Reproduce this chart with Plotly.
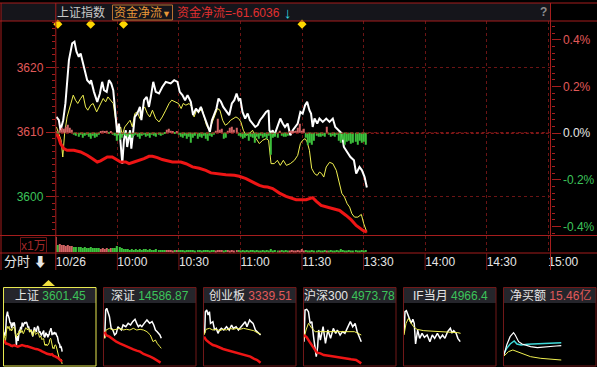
import plotly.graph_objects as go

W, H = 597, 367
def X(p): return p / W
def Y(p): return 1 - p / H

# ---------------- data: main (上证指数 intraday) ----------------
BASE_CLOSE = 3609.85
price_pts = [(0.3,3612.37),(1.5,3611.86),(2.3,3610.31),(3.6,3611.86),(4.7,3614.50),(6.4,3621.16),(8.0,3623.75),(9.1,3624.00),
    (10.1,3622.45),(11.2,3621.67),(12.1,3622.20),(13.7,3620.12),(15.3,3618.06),(16.6,3617.60),(17.2,3618.06),(18.6,3616.25),
    (20.2,3614.70),(21.5,3616.00),(22.6,3617.80),(23.5,3616.50),(24.8,3616.25),(25.9,3618.06),(27.0,3617.55),(28.0,3616.50),
    (29.2,3612.37),(30.0,3609.53),(30.8,3611.35),(31.6,3608.76),(32.4,3605.15),(33.2,3608.76),(34.1,3610.31),(34.8,3607.72),
    (36.2,3610.31),(36.8,3607.47),(37.5,3609.80),(38.5,3612.37),(39.7,3612.90),(41.0,3613.92),(41.7,3611.86),(43.0,3614.96),
    (44.3,3615.47),(45.4,3613.92),(46.3,3615.47),(47.5,3617.80),(48.7,3616.25),(50.3,3616.00),(51.9,3617.00),(53.6,3617.80),
    (56.0,3617.55),(57.7,3618.06),(59.3,3617.80),(60.4,3616.25),(61.7,3615.74),(63.0,3614.96),(64.2,3615.74),(65.8,3614.70),
    (66.9,3612.64),(68.3,3613.67),(69.5,3613.15),(70.7,3613.92),(71.8,3612.90),(73.1,3611.86),(74.4,3610.82),(75.1,3610.05),
    (76.1,3611.86),(77.2,3612.90),(78.3,3613.67),(79.3,3615.22),(80.5,3614.70),(81.6,3613.92),(82.9,3613.41),(84.5,3612.64),
    (85.8,3614.45),(87.0,3614.96),(88.1,3616.00),(89.1,3614.96),(89.9,3615.22),(91.0,3613.15),(92.3,3612.12),(93.5,3612.90),
    (94.6,3611.86),(95.9,3611.35),(97.2,3610.82),(98.4,3611.09),(99.5,3611.86),(100.8,3612.37),(102.5,3613.15),(103.7,3613.41),
    (104.1,3610.31),(104.9,3609.80),(105.7,3610.31),(106.5,3609.53),(107.8,3610.82),(109.4,3612.12),(110.6,3611.35),(111.7,3610.82),
    (113.0,3611.35),(114.3,3609.53),(115.5,3610.31),(116.6,3610.82),(117.9,3611.35),(119.2,3613.15),(120.3,3612.90),(121.5,3614.19),
    (122.5,3614.70),(123.6,3613.41),(124.4,3612.90),(125.2,3610.82),(126.1,3612.12),(127.4,3611.35),(128.5,3612.12),(130.1,3611.60),
    (131.8,3612.12),(133.4,3611.60),(135.0,3612.12),(136.2,3610.82),(137.8,3610.31),(139.4,3609.80),(140.4,3607.72),(142.0,3606.95),
    (143.6,3606.17),(145.3,3605.66),(146.4,3603.60),(148.0,3604.63),(149.2,3604.11),(150.5,3603.07),(151.6,3601.45)]

avg_pts = [(0.3,3610.82),(1.5,3609.80),(2.6,3608.76),(3.4,3606.17),(4.3,3609.80),(5.5,3612.37),(7.2,3614.45),(8.5,3615.74),
    (9.6,3614.96),(10.7,3614.45),(12.1,3615.22),(13.3,3615.74),(14.5,3613.92),(15.6,3613.41),(17.0,3614.19),(18.2,3614.45),
    (19.9,3613.15),(21.5,3614.19),(23.1,3615.22),(24.3,3614.70),(25.4,3615.47),(26.7,3614.96),(28.0,3614.45),(29.2,3611.86),
    (30.4,3610.05),(31.6,3610.82),(32.4,3609.53),(33.6,3610.82),(34.8,3611.35),(36.2,3611.86),(37.3,3610.82),(38.5,3612.90),
    (39.7,3613.15),(41.0,3612.12),(42.2,3613.41),(43.3,3613.92),(44.6,3612.90),(45.8,3612.37),(47.1,3613.41),(48.7,3612.12),
    (50.3,3611.60),(51.9,3612.37),(53.6,3613.41),(55.2,3614.45),(56.5,3614.96),(58.1,3614.70),(59.8,3614.45),(61.1,3613.67),
    (62.1,3614.45),(63.4,3614.19),(65.0,3614.45),(66.3,3613.92),(67.4,3612.37),(68.6,3613.41),(69.9,3613.15),(71.2,3613.67),
    (72.3,3612.12),(73.4,3611.09),(74.8,3610.31),(76.1,3611.35),(77.3,3612.37),(78.8,3613.67),(80.0,3613.41),(81.3,3611.86),
    (82.6,3611.09),(83.9,3611.35),(85.2,3611.86),(86.5,3612.12),(87.8,3612.37),(89.1,3612.12),(90.2,3611.60),(91.4,3610.31),
    (92.7,3609.53),(94.3,3609.80),(95.9,3610.31),(97.6,3609.02),(99.2,3608.25),(100.8,3608.76),(102.5,3609.02),(103.7,3608.76),
    (104.1,3607.72),(104.9,3605.15),(106.5,3605.15),(108.0,3605.66),(109.4,3604.88),(110.9,3605.66),(112.4,3604.88),(114.3,3605.15),
    (116.3,3605.66),(117.9,3606.43),(119.2,3608.25),(120.3,3608.76),(121.5,3609.02),(122.5,3608.50),(123.6,3607.21),(124.7,3604.42),
    (126.1,3603.60),(127.4,3603.33),(128.5,3603.84),(129.5,3603.64),(130.6,3603.07),(131.8,3604.63),(133.4,3605.35),(135.0,3605.15),
    (136.7,3604.11),(138.3,3602.25),(139.4,3600.54),(140.7,3599.97),(142.0,3598.95),(143.2,3598.42),(144.3,3597.40),(145.6,3596.87),
    (147.2,3596.87),(148.9,3597.29),(150.1,3595.84),(151.6,3594.54)]

# 资金净流 (cumulative net capital flow)
flow_pts = [(0.3,-0.2),(1.5,-3.1),(2.3,-6.4),(3.9,-9.6),(5.5,-10.6),(8.8,-10.6),(12.1,-11.7),(15.3,-13.7),(17.7,-15.8),
    (20.2,-17.9),(21.8,-17.2),(23.5,-15.8),(25.1,-14.8),(27.5,-14.8),(29.2,-15.9),(31.6,-17.9),(34.1,-17.9),(35.7,-18.9),
    (38.1,-17.9),(40.6,-16.9),(43.0,-15.8),(45.4,-14.4),(47.1,-14.4),(49.5,-15.2),(51.9,-16.4),(56.8,-17.9),(60.9,-17.9),
    (63.5,-19.0),(66.6,-21.0),(69.9,-21.8),(73.1,-23.1),(75.6,-24.7),(78.0,-25.2),(82.9,-25.8),(87.0,-26.2),(89.4,-26.8),
    (92.7,-28.3),(95.8,-30.3),(99.2,-32.5),(101.6,-33.4),(103.2,-33.5),(105.7,-34.5),(109.0,-37.3),(112.2,-39.3),(117.1,-41.4),
    (122.0,-41.4),(125.2,-40.1),(127.0,-42.4),(129.3,-44.9),(133.4,-46.4),(138.3,-48.1),(141.5,-51.2),(144.0,-54.0),
    (146.4,-57.4),(149.7,-60.5),(151.6,-61.6036)]

# per-minute net flow bars (minute 0 .. 151)
minute_flow = [1,-1,3,5,4,6,8,5,3,-2,
    -3,-4,-2,-5,-3,-2,-4,-6,-3,-5,
    -4,-2,1,2,1,2,-1,1,-2,-3,
    -8,-7,-5,-2,-3,-4,-2,-5,-3,-2,
    -4,-6,-3,-2,-4,-3,-5,-2,-3,-4,
    -2,-3,-2,-1,3,4,2,1,-1,1,
    -2,-4,-5,-3,-6,-4,-10,-5,-3,-6,
    -4,-5,-3,-6,-8,-3,-4,-2,2,14,
    3,4,-6,-5,2,5,6,3,5,-3,
    -4,-6,-5,-3,-8,-4,-5,-10,-4,-6,
    -3,-5,-4,-6,-3,-22,-5,-4,-5,2,
    -3,-4,-4,-3,1,2,1,2,5,9,
    2,4,-5,-12,-10,-12,-8,-3,-4,-4,
    -3,-4,6,-2,-4,-3,-4,-2,-8,-10,
    -7,-12,-9,-8,-11,-10,-9,-12,-8,-10,
    -9,-12]

# volume (x1万), minute 0 .. 151
volume = [15,7,8,7,7,6,7,6,6,5,
    5,5,5,4,5,4,4,5,4,4,
    4,4,3,4,3,4,3,4,4,4,
    6,5,4,3,3,3,2,3,2,3,
    2,3,2,3,3,2,3,2,2,3,
    2,2,2,2,2,2,2,1,2,2,
    2,2,2,1,2,2,2,2,1,2,
    2,1,2,2,2,1,2,2,1,2,
    2,2,1,2,2,1,2,1,2,2,
    1,2,1,2,1,2,2,1,2,1,
    1,2,1,2,1,3,1,2,1,1,
    2,1,2,1,1,2,1,1,2,1,
    3,1,2,1,1,2,1,1,2,1,
    1,2,1,1,2,1,1,2,1,3,
    2,1,1,2,1,1,2,1,1,2,
    1,2]

event_minutes = [1, 17, 33, 120]
time_tick_min = [0, 30, 60, 90, 120, 150, 180, 210, 240]
time_tick_text = ["10/26", "10:00", "10:30", "11:00", "11:30", "13:30", "14:00", "14:30", "15:00"]
price_ticks = [3600, 3610, 3620]
pct_ticks = [-0.4, -0.2, 0.0, 0.2, 0.4]

# ---------------- data: thumbnails ----------------
thumb_names = ["上证", "深证", "创业板", "沪深300", "IF当月", "净买额"]
thumb_values = ["3601.45", "14586.87", "3339.51", "4973.78", "4966.4", "15.46亿"]
thumb_up = [False, False, True, False, False, True]

sz_white = [(1.8,-0.125),(4.4,0.30),(7.1,0.325),(10.7,0.275),(14.2,0.20),(18.7,0.025),(23.1,0.0),(27.6,-0.075),(32.0,-0.05),
    (36.4,0.05),(40.9,0.025),(45.3,0.0),(49.8,0.075),(56.9,0.05),(63.1,0.10),(69.3,0.075),(74.7,0.125),(80.9,0.16),(85.3,0.10),
    (89.8,0.05),(94.2,0.075),(98.7,0.05),(104.9,0.10),(112.0,0.15),(119.1,0.10),(125.3,0.125),(129.8,0.075),(134.2,0.0),
    (138.7,-0.025),(145.8,-0.075),(149.4,-0.125)]
sz_yellow = [(1.8,-0.125),(5.3,0.0),(14.2,0.025),(23.1,0.0),(32.0,0.01),(40.9,0.025),(49.8,0.0),(58.7,0.01),(67.6,0.0),
    (76.5,0.025),(85.3,0.0),(94.2,0.01),(103.1,0.0),(112.0,-0.025),(120.9,-0.075),(128.0,-0.175),(134.2,-0.15),(138.7,-0.20),
    (145.8,-0.25),(149.4,-0.275)]
sz_flow = [(1.8,0),(5.3,-6),(14.2,-9),(23.1,-13.8),(32.0,-18),(40.9,-21),(49.8,-24),(58.7,-27),(67.6,-30),(76.5,-31.8),
    (85.3,-34.2),(94.2,-36),(103.1,-40.2),(112.0,-42),(120.9,-45),(129.8,-48),(138.7,-52.2),(147.6,-55.8)]

cy_white = [(1.8,-0.05),(3.6,0.275),(7.1,0.30),(10.7,0.225),(14.2,0.275),(16.9,0.10),(23.1,0.125),(27.6,0.0),(32.0,0.025),
    (36.4,-0.05),(40.9,0.0),(45.3,0.025),(51.6,0.0),(58.7,0.05),(65.8,0.0),(72.0,0.075),(76.5,0.025),(83.6,0.05),(89.8,0.0),
    (96.0,0.05),(101.3,0.075),(107.6,0.125),(112.0,0.05),(119.1,0.15),(122.7,0.125),(128.0,0.10),(134.2,0.0),(138.7,-0.025),
    (143.1,-0.05),(147.6,-0.075)]
cy_yellow = [(0,-0.075),(5.3,0.01),(14.2,0.025),(23.1,0.0),(32.0,0.01),(40.9,-0.01),(49.8,0.01),(58.7,0.0),(67.6,0.025),
    (76.5,0.01),(85.3,0.025),(94.2,0.01),(103.1,0.025),(112.0,0.01),(120.9,0.0),(129.8,-0.01),(138.7,-0.04),(147.6,-0.06)]
cy_flow = [(0,0),(5.3,-6),(14.2,-10.8),(23.1,-15),(32.0,-16.8),(40.9,-19.8),(49.8,-22.2),(58.7,-24),(67.6,-25.8),(76.5,-27.6),
    (85.3,-28.8),(94.2,-30),(103.1,-32.4),(112.0,-34.8),(120.9,-36),(129.8,-39.6),(138.7,-42),(147.6,-46.8)]

hs_white = [(0,-0.15),(2.7,0.325),(7.1,0.335),(11.6,0.30),(16.0,0.125),(20.4,0.15),(24.9,-0.075),(29.3,-0.225),(32.0,-0.375),
    (35.6,-0.225),(38.2,0.025),(42.7,-0.125),(49.8,0.075),(56.0,-0.175),(62.2,0.025),(69.3,-0.10),(76.5,0.05),(82.7,-0.025),
    (87.1,0.025),(94.2,-0.05),(100.5,0.0),(106.7,-0.025),(113.8,0.075),(120.9,0.15),(127.1,0.075),(133.4,0.125),(138.7,0.0),
    (144.9,-0.075),(149.4,-0.15)]
hs_yellow = [(0,-0.10),(5.3,0.025),(11.6,0.125),(20.4,0.05),(29.3,0.0),(42.7,0.0),(60.4,0.01),(78.2,0.0),(96.0,0.005),
    (113.8,0.0),(131.6,0.0),(140.5,-0.025),(149.4,-0.05)]
hs_flow = [(0,0),(7.1,-4.2),(14.2,-12),(20.4,-18),(24.9,-21),(29.3,-27),(33.8,-31.8),(42.7,-33),(51.6,-36),(69.3,-37.8),
    (87.1,-40.2),(104.9,-42),(122.7,-43.8),(136.0,-45),(144.9,-48),(149.4,-51)]

if_white = [(0,-0.025),(2.7,0.30),(6.2,0.315),(9.8,0.25),(14.2,0.175),(18.7,0.125),(23.1,0.185),(26.7,0.125),(30.2,-0.185),
    (35.6,0.025),(40.9,-0.10),(47.1,-0.025),(53.3,-0.085),(60.4,-0.05),(67.6,-0.15),(73.8,-0.05),(80.0,-0.10),(87.1,-0.025),
    (94.2,-0.10),(100.5,-0.05),(106.7,-0.10),(113.8,0.0),(120.9,0.05),(125.3,-0.015),(129.8,0.015),(136.0,-0.025),
    (140.5,-0.10),(146.7,-0.15)]
if_yellow = [(0,-0.05),(5.3,0.125),(11.6,0.20),(16.0,0.15),(24.9,0.075),(33.8,0.035),(51.6,0.015),(69.3,0.01),(87.1,0.0),
    (104.9,0.0),(122.7,-0.015),(140.5,-0.015),(147.6,-0.025)]

nb_cyan = [(0,6.0),(7.1,10.5),(16.0,14.4),(23.1,16.5),(26.7,17.1),(33.8,14.4),(44.5,13.5),(60.4,14.1),(78.2,14.4),(96.0,15.0),
    (113.8,15.0),(131.6,15.6),(149.4,15.46)]
nb_white = [(0,4.5),(7.1,13.5),(16.0,21.0),(24.9,24.6),(29.3,22.5),(38.2,16.5),(47.1,14.4),(56.0,13.5),(69.3,12.0),(87.1,11.1),
    (104.9,11.4),(122.7,12.0),(136.0,12.6),(149.4,12.9)]
nb_yellow = [(0,3.6),(11.6,7.5),(23.1,9.0),(33.8,7.5),(51.6,5.4),(69.3,3.0),(96.0,1.5),(122.7,0.6),(149.4,0.0)]

# ---------------- styles ----------------
FONT = "Liberation Sans, Arial, Noto Sans CJK SC, sans-serif"
RED_TXT = "#e05a5a"
GRN_TXT = "#3cc35a"
WHT_TXT = "#e6e6e6"
FRAME = "#a51d1d"
GRID = "#6b1414"
WHITE_LN = "#ffffff"
YELLOW_LN = "#f0f050"
RED_LN = "#ee1515"
GREEN_BAR = "#3cbf3c"
RED_BAR = "#d06464"

def xs(pts): return [p[0] for p in pts]
def ys(pts): return [p[1] for p in pts]

fig = go.Figure()

# ----- main panel -----
minutes = list(range(len(minute_flow)))
bar_colors = [RED_BAR if v > 0 else GREEN_BAR for v in minute_flow]
fig.add_trace(go.Bar(x=minutes, y=minute_flow, width=0.55, marker=dict(color=bar_colors, line=dict(width=0)),
                     xaxis="x", yaxis="y4"))
fig.add_trace(go.Scatter(x=xs(flow_pts), y=ys(flow_pts), mode="lines", line=dict(color=RED_LN, width=3),
                         xaxis="x", yaxis="y3"))
fig.add_trace(go.Scatter(x=xs(avg_pts), y=ys(avg_pts), mode="lines", line=dict(color=YELLOW_LN, width=1),
                         xaxis="x", yaxis="y"))
fig.add_trace(go.Scatter(x=xs(price_pts), y=ys(price_pts), mode="lines", line=dict(color=WHITE_LN, width=2),
                         xaxis="x", yaxis="y"))
fig.add_trace(go.Scatter(x=event_minutes, y=[1] * len(event_minutes), mode="markers",
                         marker=dict(symbol="diamond", size=7, color="#ffd700"), cliponaxis=False,
                         xaxis="x", yaxis="y6"))

# ----- volume panel -----
vol_colors = [RED_BAR if v > 0 else GREEN_BAR for v in minute_flow]
fig.add_trace(go.Bar(x=minutes, y=volume, width=0.55, marker=dict(color=vol_colors, line=dict(width=0)),
                     xaxis="x2", yaxis="y5"))

# ----- thumbnails -----
thumb_series = [
    [("y", price_pts, WHITE_LN, 1.5), ("y", avg_pts, YELLOW_LN, 1), ("f", flow_pts, RED_LN, 2.5)],
    [("y", sz_white, WHITE_LN, 1.5), ("y", sz_yellow, YELLOW_LN, 1), ("f", sz_flow, RED_LN, 2.5)],
    [("y", cy_white, WHITE_LN, 1.5), ("y", cy_yellow, YELLOW_LN, 1), ("f", cy_flow, RED_LN, 2.5)],
    [("y", hs_white, WHITE_LN, 1.5), ("y", hs_yellow, YELLOW_LN, 1), ("f", hs_flow, RED_LN, 2.5)],
    [("y", if_white, WHITE_LN, 1.5), ("y", if_yellow, YELLOW_LN, 1)],
    [("y", nb_cyan, "#40d8d8", 1.5), ("y", nb_white, WHITE_LN, 1.2), ("y", nb_yellow, YELLOW_LN, 1)],
]
thumb_ranges = [
    ([3593.96, 3628.34], [-71.0, 102.2]),
    ([-0.525, 0.39], [-60, 49.8]),
    ([-0.525, 0.39], [-51, 58.8]),
    ([-0.5, 0.415], [-54, 55.8]),
    ([-0.5, 0.415], [-1, 1]),
    ([-4.5, 50.4], [-1, 1]),
]
for k, series in enumerate(thumb_series):
    xa = "x%d" % (3 + k)
    ya = "y%d" % (7 + 2 * k)
    fa = "y%d" % (8 + 2 * k)
    for kind, pts, col, w in series:
        fig.add_trace(go.Scatter(x=xs(pts), y=ys(pts), mode="lines", line=dict(color=col, width=w),
                                 xaxis=xa, yaxis=(ya if kind == "y" else fa)))

# ----- axes -----
XL, XR = 55.8, 550.5
YT, YB = 21, 235.5
lay = {}
main_rng = [3594.03, 3627.21]
lay["xaxis"] = dict(domain=[X(XL), X(XR)], range=[0, 241.1], tickvals=time_tick_min, showticklabels=False,
                    showgrid=True, gridcolor=GRID, griddash="dot", gridwidth=1, zeroline=False, showline=False,
                    ticks="", anchor="y", automargin=False)
lay["yaxis"] = dict(domain=[Y(YB), Y(YT)], range=main_rng, tickmode="array", tickvals=price_ticks,
                    ticktext=['<span style="color:%s">%d</span>' % (GRN_TXT if v < BASE_CLOSE else RED_TXT, v) for v in price_ticks],
                    ticks="outside", ticklen=9, tickcolor=FRAME, tickwidth=1,
                    minor=dict(ticks="outside", ticklen=3, tickcolor=FRAME, tickmode="linear", tick0=3600, dtick=1, showgrid=False),
                    showgrid=True, gridcolor=GRID, griddash="dot", zeroline=False, showline=False,
                    tickfont=dict(family=FONT, size=12), anchor="x", side="left", automargin=False)
pct_rng = [(main_rng[0] - BASE_CLOSE) / BASE_CLOSE * 100, (main_rng[1] - BASE_CLOSE) / BASE_CLOSE * 100]
def pct_txt(v):
    col = WHT_TXT if abs(v) < 1e-9 else (RED_TXT if v > 0 else GRN_TXT)
    return '<span style="color:%s">%.1f%%</span>' % (col, v)
lay["yaxis2"] = dict(overlaying="y", side="right", anchor="x", range=pct_rng, tickmode="array", tickvals=pct_ticks,
                     ticktext=[pct_txt(v) for v in pct_ticks], ticks="outside", ticklen=9, tickcolor=FRAME,
                     minor=dict(ticks="outside", ticklen=3, tickcolor=FRAME, tickmode="linear", tick0=0, dtick=0.2 / 7, showgrid=False),
                     showgrid=False, zeroline=False, showline=False, tickfont=dict(family=FONT, size=12), automargin=False)
lay["yaxis3"] = dict(overlaying="y", range=[-63.7, 69.9], visible=False)
lay["yaxis4"] = dict(overlaying="y", range=[-102.5, 111.5], visible=False)
lay["yaxis6"] = dict(overlaying="y", range=[0, 1.015], visible=False)

VT, VB = 235.5, 253
lay["xaxis2"] = dict(domain=[X(XL), X(XR)], range=[0, 241.1], anchor="y5", tickmode="array", tickvals=time_tick_min,
                     ticktext=time_tick_text, ticks="", ticklabelposition="outside right",
                     tickfont=dict(family=FONT, size=12, color=WHT_TXT), showgrid=True, gridcolor=GRID,
                     griddash="dot", zeroline=False, showline=False, automargin=False)
lay["yaxis5"] = dict(domain=[Y(VB), Y(VT)], range=[-1, 16.5], anchor="x2", visible=False)

for k in range(6):
    bx = 3 + 100 * k
    lay["xaxis%d" % (3 + k)] = dict(domain=[X(bx + 1), X(bx + 93)], range=[0, 240], visible=False, anchor="y%d" % (7 + 2 * k))
    lay["yaxis%d" % (7 + 2 * k)] = dict(domain=[Y(365), Y(304)], range=thumb_ranges[k][0], visible=False, anchor="x%d" % (3 + k))
    lay["yaxis%d" % (8 + 2 * k)] = dict(domain=[Y(365), Y(304)], range=thumb_ranges[k][1], visible=False,
                                        overlaying="y%d" % (7 + 2 * k), anchor="x%d" % (3 + k))

# ----- shapes: frames / header -----
shapes = []
def pline(x0, y0, x1, y1, col=FRAME, w=1, dash=None):
    d = dict(type="line", xref="paper", yref="paper", x0=X(x0), y0=Y(y0), x1=X(x1), y1=Y(y1),
             line=dict(color=col, width=w))
    if dash: d["line"]["dash"] = dash
    shapes.append(d)

shapes.append(dict(type="rect", xref="paper", yref="paper", x0=X(1), x1=X(XR), y0=Y(21), y1=Y(3),
                   fillcolor="#15151b", line=dict(width=0), layer="below"))
pline(0, 3, 597, 3)
pline(0, 21, 597, 21)
pline(0, YB, 597, YB)
pline(0, VB, 597, VB)
pline(1, 3, 1, 270)
pline(XL, 3, XL, 270)
pline(XR, 3, XR, 270)
for m in time_tick_min[1:-1]:
    shapes.append(dict(type="line", xref="x2", yref="paper", x0=m, x1=m, y0=Y(VB), y1=Y(270),
                       line=dict(color="#7a1515", width=1)))
shapes.append(dict(type="line", xref="paper", yref="y2", x0=X(XL), x1=X(XR), y0=0, y1=0,
                   line=dict(color="#b02020", width=1, dash="3px,2px")))
shapes.append(dict(type="rect", xref="paper", yref="paper", x0=X(112.5), x1=X(172.5), y0=Y(20), y1=Y(5),
                   line=dict(color="#b87030", width=1), fillcolor="rgba(0,0,0,0)"))
shapes.append(dict(type="rect", xref="paper", yref="paper", x0=X(20.5), x1=X(46.5), y0=Y(253), y1=Y(237.5),
                   line=dict(color="#6e1515", width=1), fillcolor="rgba(0,0,0,0)"))

for k in range(6):
    bx = 3 + 100 * k
    shapes.append(dict(type="rect", xref="paper", yref="paper", x0=X(bx + 0.5), x1=X(bx + 93), y0=Y(303), y1=Y(287.5),
                       fillcolor="#25252b", line=dict(width=0), layer="below"))
    shapes.append(dict(type="rect", xref="paper", yref="paper", x0=X(bx + 0.5), x1=X(bx + 93), y0=Y(366), y1=Y(287.5),
                       line=dict(color=("#e8e850" if k == 0 else "#701818"), width=1), fillcolor="rgba(0,0,0,0)"))
shapes.append(dict(type="path", xref="paper", yref="paper",
                   path="M %f %f L %f %f L %f %f Z" % (X(42), Y(286), X(55), Y(286), X(48.5), Y(280)),
                   fillcolor="#f0e040", line=dict(width=0)))

# ----- annotations -----
ann = []
def text(x, y, t, col, size=12, anchor="left", fam=FONT):
    ann.append(dict(xref="paper", yref="paper", x=X(x), y=Y(y), text=t, showarrow=False, xanchor=anchor,
                    yanchor="middle", font=dict(family=fam, size=size, color=col)))

text(55, 12.5, "上证指数", "#c8c8c8")
text(112, 12.5, "资金净流<span style='font-size:9px'>▼</span>", "#e89838")
text(174.5, 12.5, "资金净流=%.4f" % flow_pts[-1][1], "#e03030")
text(282, 12, "↓", "#30d8e0", size=15)
text(543, 12, "<b>?</b>", "#8c8c8c", size=12, anchor="center")
text(33.5, 245.5, "x1万", "#a02828", size=12, anchor="center")
text(2, 261, "分时 <b>⬇</b>", WHT_TXT, size=13)

for k in range(6):
    bx = 3 + 100 * k
    col = RED_TXT if thumb_up[k] else GRN_TXT
    text(bx + 47, 295.5, '<span style="color:%s">%s</span> <span style="color:%s">%s</span>' % (WHT_TXT, thumb_names[k], col, thumb_values[k]),
         WHT_TXT, size=12, anchor="center")

fig.update_layout(width=W, height=H, margin=dict(l=0, r=0, t=0, b=0, autoexpand=False), paper_bgcolor="#000000",
                  plot_bgcolor="rgba(0,0,0,0)", showlegend=False, barmode="overlay", shapes=shapes,
                  annotations=ann, font=dict(family=FONT, size=12, color=WHT_TXT), **lay)

fig.write_html("out.html")
